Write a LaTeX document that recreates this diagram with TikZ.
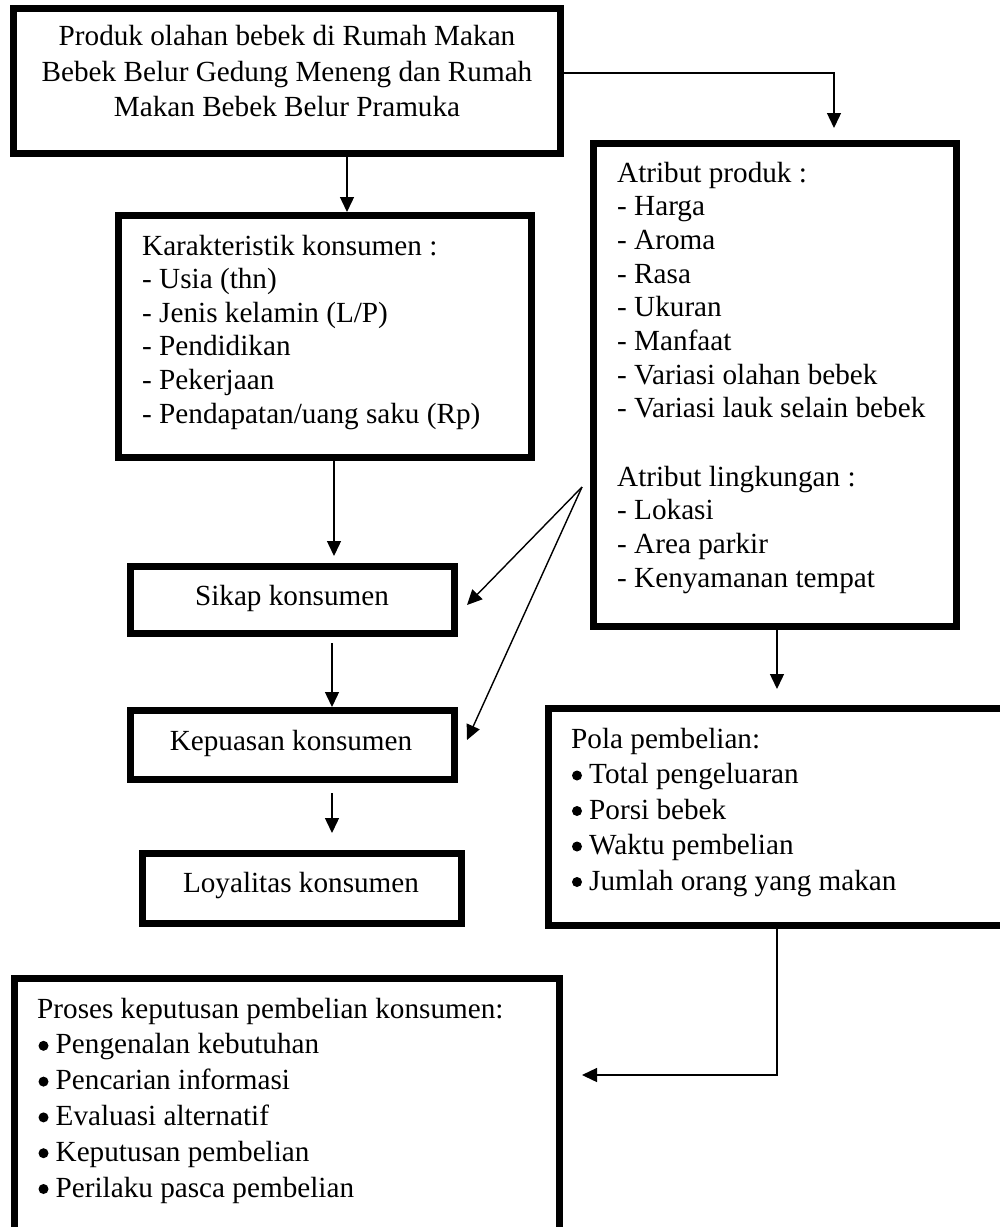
\documentclass[tikz,border=0pt]{standalone}
\usepackage{fontspec}
\setmainfont{Liberation Serif}
\usetikzlibrary{arrows.meta}
\begin{document}
\begin{tikzpicture}[x=1pt,y=-1pt,
  box/.style={draw, line width=7pt, rectangle, inner sep=0pt},
  txt/.style={inner sep=0pt, anchor=base west, font=\fontsize{29.2}{35}\selectfont},
  ctxt/.style={txt, anchor=base},
  dot/.style={circle, fill, draw=none, inner sep=0pt, minimum size=10pt},
  conn/.style={line width=1.4pt, -{Triangle[length=15pt,width=14pt]}}]
\useasboundingbox (0,0) rectangle (1000,1227);
\clip (0,0) rectangle (1000,1227);
\fill[white] (0,0) rectangle (1000,1227);

% boxes
\node[box, minimum width=547pt, minimum height=145pt] (prod) at (287,81) {};
\node[box, minimum width=413pt, minimum height=242pt] (kar) at (325,336.5) {};
\node[box, minimum width=363pt, minimum height=483pt] (atr) at (775,385) {};
\node[box, minimum width=324pt, minimum height=67pt] (sik) at (292.5,600) {};
\node[box, minimum width=324pt, minimum height=69pt] (kep) at (292.5,745) {};
\node[box, minimum width=319pt, minimum height=70pt] (loy) at (302,888.5) {};
\node[box, minimum width=457pt, minimum height=217pt] (pola) at (777,817) {};
\node[box, minimum width=545pt, minimum height=262pt] (pros) at (287,1109.5) {};

% texts
\node[ctxt] (p1) at (287,45) {Produk olahan bebek di Rumah Makan};
\node[ctxt] (p2) at (287,81) {Bebek Belur Gedung Meneng dan Rumah};
\node[ctxt] (p3) at (287,116) {Makan Bebek Belur Pramuka};

\foreach \t [count=\i] in {Karakteristik konsumen :, - Usia (thn), - Jenis kelamin (L/P), - Pendidikan, - Pekerjaan, - Pendapatan/uang saku (Rp)}
  \node[txt] (k\i) at (142,{255+33.6*(\i-1)}) {\t};

\foreach \t [count=\i] in {Atribut produk :, - Harga, - Aroma, - Rasa, - Ukuran, - Manfaat, - Variasi olahan bebek, - Variasi lauk selain bebek}
  \node[txt] (a\i) at (617,{182+33.7*(\i-1)}) {\t};
\foreach \t [count=\i] in {Atribut lingkungan :, - Lokasi, - Area parkir, - Kenyamanan tempat}
  \node[txt] (l\i) at (617,{486+33.7*(\i-1)}) {\t};

\node[ctxt] (sikt) at (292,605) {Sikap konsumen};
\node[ctxt] (kept) at (291,750) {Kepuasan konsumen};
\node[ctxt] (loyt) at (301,892) {Loyalitas konsumen};

\node[txt] (pt) at (571,748) {Pola pembelian:};
\foreach \t [count=\i] in {Total pengeluaran, Porsi bebek, Waktu pembelian, Jumlah orang yang makan}{
  \node[dot] (pd\i) at (577,{748+35.5*\i-8}) {};
  \node[txt] (pb\i) at (589,{748+35.5*\i}) {\t};
}

\node[txt] (rt) at (37,1018) {Proses keputusan pembelian konsumen:};
\foreach \t [count=\i] in {Pengenalan kebutuhan, Pencarian informasi, Evaluasi alternatif, Keputusan pembelian, Perilaku pasca pembelian}{
  \node[dot] (rd\i) at (43.5,{1018+35.8*\i-8}) {};
  \node[txt] (rb\i) at (55.5,{1018+35.8*\i}) {\t};
}

% connectors
\coordinate (t1) at (834,128);
\coordinate (t2) at (334,556);
\coordinate (t3) at (332,833);
\coordinate (fan) at (582,487);
\coordinate (t4) at (467,605);
\coordinate (t5) at (467,740);
\coordinate (t6) at (777,689);
\coordinate (t7) at (582,1075);

\draw[conn] ([yshift=8pt]prod.east) -| (t1);
\draw[conn] ([xshift=60pt]prod.south) -- ([xshift=22pt]kar.north);
\draw[conn] ([xshift=9pt]kar.south) -- (t2);
\draw[conn] ([xshift=39.5pt,yshift=-6pt]sik.south) -- ([xshift=39.5pt]kep.north);
\draw[conn] ([xshift=39.5pt,yshift=-10pt]kep.south) -- (t3);
\draw[conn] (fan) -- (t4);
\draw[conn] (fan) -- (t5);
\draw[conn] ([xshift=2pt]atr.south) -- (t6);
\draw[conn] (pola.south) |- (t7);
\end{tikzpicture}
\end{document}
